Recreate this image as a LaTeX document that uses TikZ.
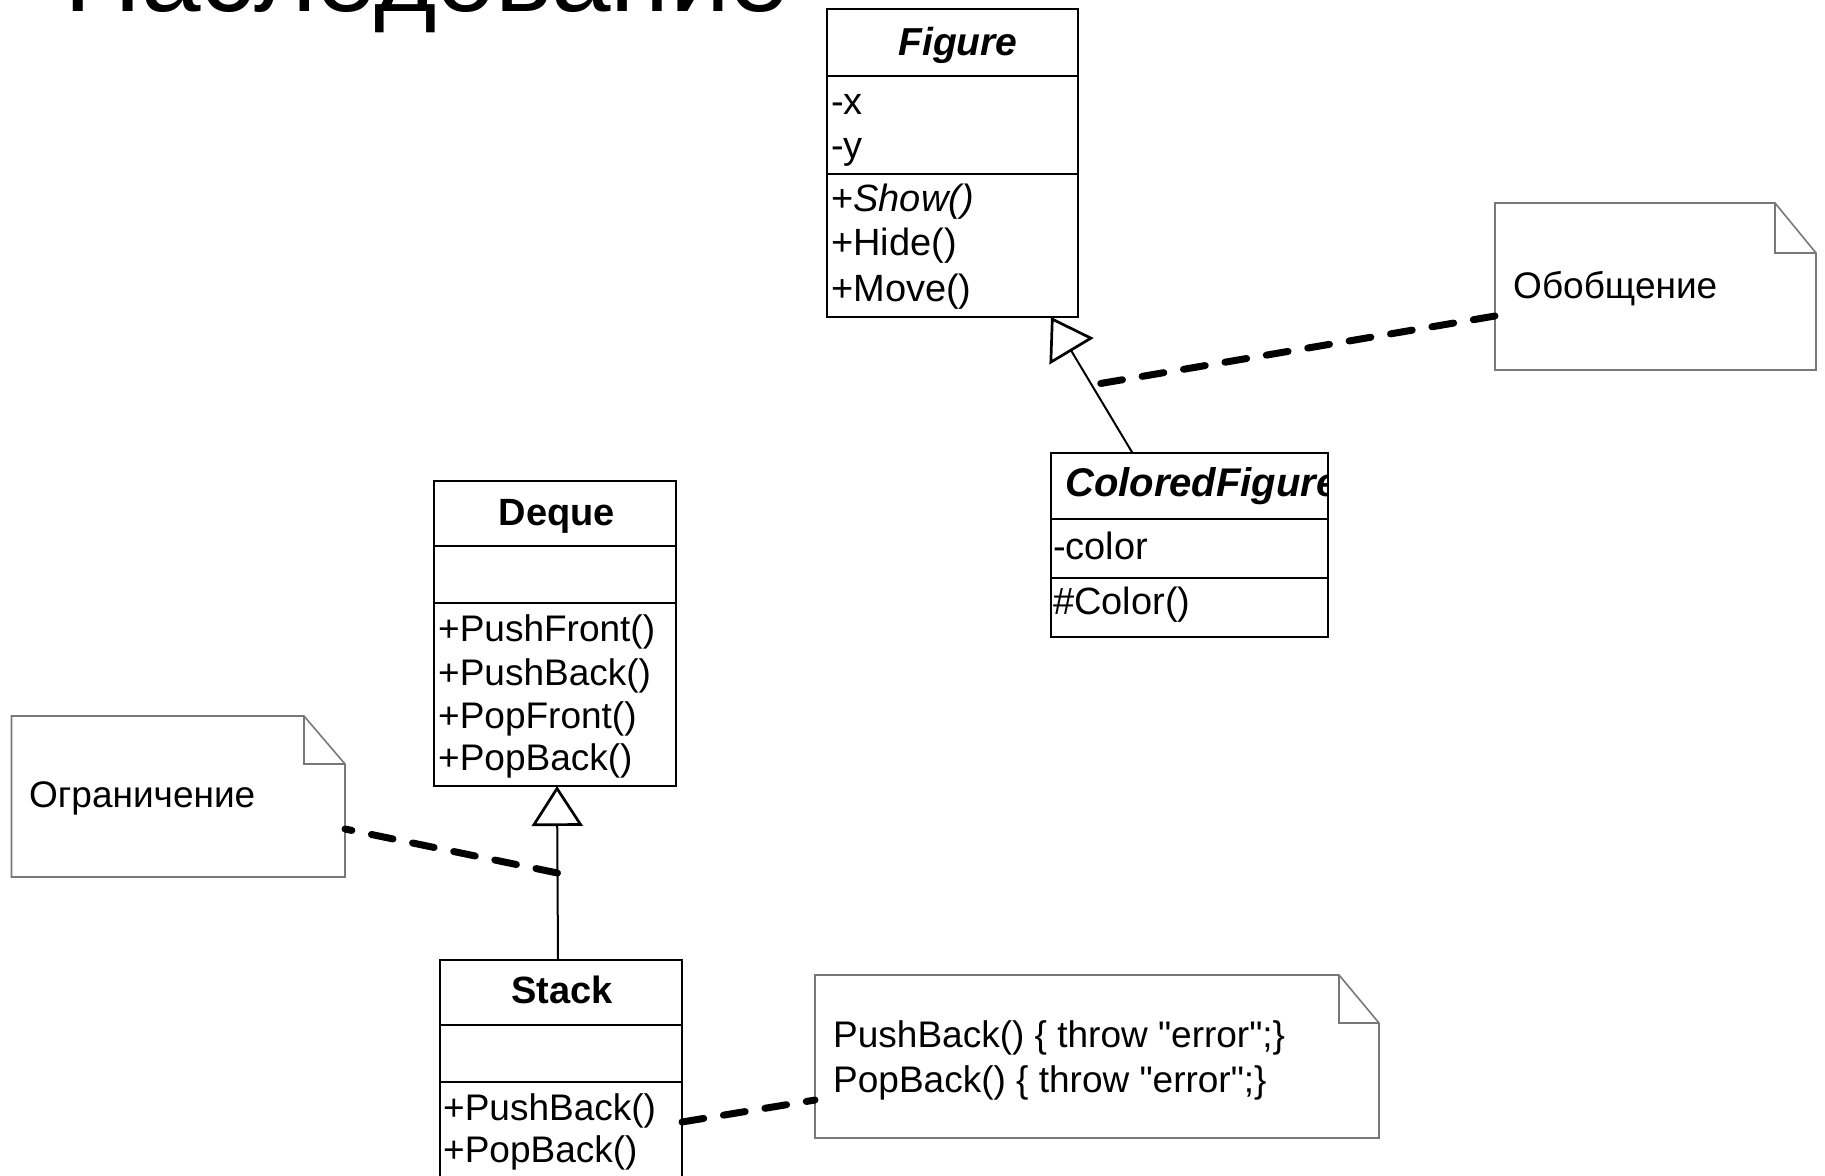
\documentclass[tikz,border=0pt]{standalone}
\usepackage{fontspec}
\setmainfont{Liberation Sans}
\usetikzlibrary{arrows.meta}
\definecolor{notegray}{RGB}{120,120,120}
\begin{document}
\begin{tikzpicture}[x=1pt,y=-1pt,
  cls/.style={draw=black, line width=2.7pt, inner sep=0pt, outer sep=0pt, anchor=north west},
  divider/.style={draw=black, line width=2.5pt},
  txt/.style={inner sep=0pt, anchor=base west, font=\fontsize{38}{44}\selectfont},
  ttl/.style={inner sep=0pt, anchor=base, font=\fontsize{38}{44}\selectfont\bfseries},
  notebox/.style={inner sep=0pt, outer sep=0pt, anchor=north west},
  noteline/.style={draw=notegray, line width=1.6pt, line join=miter},
  notetxt/.style={inner sep=0pt, anchor=base west, font=\fontsize{37}{42}\selectfont},
  gen/.style={draw=black, line width=2pt, -{Triangle[length=40pt, width=51pt, fill=white, line width=2.7pt]}},
  anchorline/.style={draw=black, line width=7pt, line cap=round, dash pattern=on 22pt off 20pt},
]
\useasboundingbox (0,0) rectangle (1825,1175);

% title
\node[inner sep=0pt, anchor=base west, font=\fontsize{107}{124}\selectfont] (title) at (64,11) {Наследование};

% Figure
\node[cls, minimum width=251pt, minimum height=308pt] (fig) at (827,9) {};
\draw[divider] (827,76) -- (1078,76);
\draw[divider] (827,174) -- (1078,174);
\node[ttl, font=\fontsize{39}{44}\selectfont\bfseries\itshape] (figT) at (958,55) {Figure};
\node[txt] (figA1) at (831,114) {-x};
\node[txt] (figA2) at (831,158) {-y};
\node[txt] (figM1) at (831,211) {+\textit{Show()}};
\node[txt] (figM2) at (831,255) {+Hide()};
\node[txt] (figM3) at (831,301) {+Move()};

% ColoredFigure
\node[cls, minimum width=277pt, minimum height=184pt] (cf) at (1051,453) {};
\draw[divider] (1051,519) -- (1328,519);
\draw[divider] (1051,578) -- (1328,578);
\begin{scope}
  \clip ([xshift=1.35pt,yshift=-1.35pt]cf.north west) rectangle ([xshift=-1.35pt,yshift=1.35pt]cf.south east);
  \node[txt, font=\fontsize{40}{46}\selectfont\bfseries\itshape] (cfT) at (1065,496) {ColoredFigure};
\end{scope}
\node[txt] (cfA1) at (1053,559) {-color};
\node[txt] (cfM1) at (1053,614) {\#Color()};

% Deque
\node[cls, minimum width=242pt, minimum height=305pt] (deq) at (434,481) {};
\draw[divider] (434,546) -- (676,546);
\draw[divider] (434,603) -- (676,603);
\node[ttl] (deqT) at (557,525) {Deque};
\node[txt, font=\fontsize{37}{44}\selectfont] (deqM1) at (438,641) {+PushFront()};
\node[txt, font=\fontsize{37}{44}\selectfont] (deqM2) at (438,685) {+PushBack()};
\node[txt, font=\fontsize{37}{44}\selectfont] (deqM3) at (438,728) {+PopFront()};
\node[txt, font=\fontsize{37}{44}\selectfont] (deqM4) at (438,770) {+PopBack()};

% Stack
\node[cls, minimum width=242pt, minimum height=250pt] (stk) at (440,960) {};
\draw[divider] (440,1025) -- (682,1025);
\draw[divider] (440,1082) -- (682,1082);
\node[ttl] (stkT) at (562,1003) {Stack};
\node[txt, font=\fontsize{37}{44}\selectfont] (stkM1) at (443,1120) {+PushBack()};
\node[txt, font=\fontsize{37}{44}\selectfont] (stkM2) at (443,1162) {+PopBack()};

% Note 1
\node[notebox, minimum width=321pt, minimum height=167pt] (n1) at (1495,203) {};
\draw[noteline] (n1.north west) -- ([xshift=-41pt]n1.north east) -- ([yshift=-50pt]n1.north east) -- (n1.south east) -- (n1.south west) -- cycle;
\draw[noteline] ([xshift=-41pt]n1.north east) |- ([yshift=-50pt]n1.north east);
\node[notetxt] (n1T) at (1513,298) {Обобщение};

% Note 2
\node[notebox, minimum width=333.5pt, minimum height=161pt] (n2) at (11.5,716) {};
\draw[noteline] (n2.north west) -- ([xshift=-41pt]n2.north east) -- ([yshift=-48pt]n2.north east) -- (n2.south east) -- (n2.south west) -- cycle;
\draw[noteline] ([xshift=-41pt]n2.north east) |- ([yshift=-48pt]n2.north east);
\node[notetxt] (n2T) at (29,807) {Ограничение};

% Note 3
\node[notebox, minimum width=564pt, minimum height=163pt] (n3) at (815,975) {};
\draw[noteline] (n3.north west) -- ([xshift=-40pt]n3.north east) -- ([yshift=-48pt]n3.north east) -- (n3.south east) -- (n3.south west) -- cycle;
\draw[noteline] ([xshift=-40pt]n3.north east) |- ([yshift=-48pt]n3.north east);
\node[notetxt] (n3T1) at (833,1047) {PushBack() \{ throw \textquotedbl error\textquotedbl;\}};
\node[notetxt] (n3T2) at (833,1092) {PopBack() \{ throw \textquotedbl error\textquotedbl;\}};

% generalizations
\draw[gen] ([xshift=-57pt]cf.north) -- coordinate[pos=0.5] (g1) ([xshift=224pt]fig.south west);
\draw[gen] ([xshift=-3pt]stk.north) -- coordinate[pos=0.5] (g2) ([xshift=2pt]deq.south);

% note anchors
\draw[anchorline] ([yshift=-113pt]n1.north west) -- (g1);
\draw[anchorline] (g2) -- ([yshift=-113pt]n2.north east);
\draw[anchorline] ([yshift=-162pt]stk.north east) -- ([yshift=-125pt]n3.north west);
\end{tikzpicture}
\end{document}
